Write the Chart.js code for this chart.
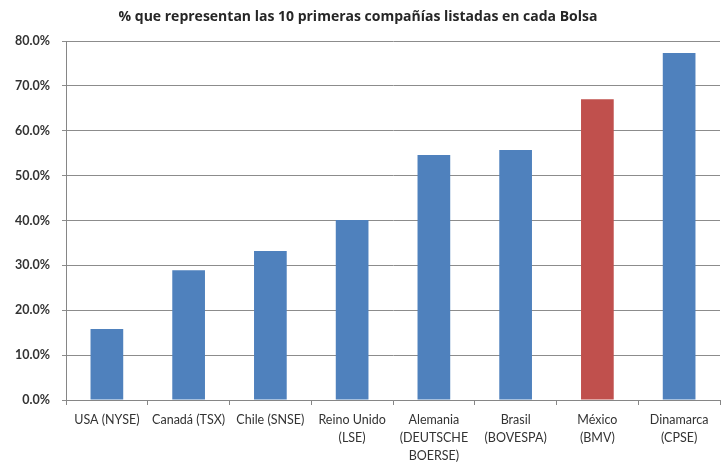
<!DOCTYPE html>
<html>
<head>
<meta charset="utf-8">
<script src="https://cdn.jsdelivr.net/npm/chart.js@4/dist/chart.umd.min.js"></script>
<style>
html,body{margin:0;padding:0;background:#fff;}
#wrap{width:727px;height:471px;}
</style>
</head>
<body>
<div id="wrap"><canvas id="c" width="727" height="471"></canvas></div>
<script>
const chartTitle = "% que representan las 10 primeras compañías listadas en cada Bolsa";
const categories = [
  ["USA (NYSE)"],
  ["Canadá (TSX)"],
  ["Chile (SNSE)"],
  ["Reino Unido", "(LSE)"],
  ["Alemania", "(DEUTSCHE", "BOERSE)"],
  ["Brasil", "(BOVESPA)"],
  ["México", "(BMV)"],
  ["Dinamarca", "(CPSE)"]
];
const values = [15.8, 28.9, 33.2, 40.1, 54.6, 55.7, 67.0, 77.3];
const highlight = "México";
const yTicks = [0, 10, 20, 30, 40, 50, 60, 70, 80];

const BLUE = "#4F81BD", RED = "#C0504D";
const barColors = categories.map(c => c[0] === highlight ? RED : BLUE);

const titlePlugin = {
  id: "fixedTitle",
  afterDraw(chart) {
    const ctx = chart.ctx;
    ctx.save();
    ctx.font = "bold 14px 'Open Sans', Lato, sans-serif";
    ctx.fillStyle = "#262626";
    ctx.textAlign = "center";
    ctx.textBaseline = "middle";
    ctx.fillText(chartTitle, 358, 17);
    ctx.restore();
  }
};

new Chart(document.getElementById("c"), {
  type: "bar",
  data: {
    labels: categories,
    datasets: [{
      data: values,
      backgroundColor: barColors,
      borderWidth: 0,
      categoryPercentage: 0.8,
      barPercentage: 0.5
    }]
  },
  options: {
    responsive: false,
    animation: false,
    events: [],
    layout: { padding: { top: 41, right: 7, left: 0, bottom: 0 } },
    plugins: { legend: { display: false }, tooltip: { enabled: false }, title: { display: false } },
    scales: {
      x: {
        afterFit(s) { s.height = 71; },
        grid: { display: true, drawOnChartArea: false, drawTicks: true, tickLength: 5, color: "#868686", offset: true },
        border: { color: "#868686", width: 1 },
        ticks: {
          autoSkip: false, maxRotation: 0, minRotation: 0, padding: 6,
          color: "#333333",
          font: { family: "Lato, 'Open Sans', sans-serif", size: 12.5, lineHeight: 1.45 }
        }
      },
      y: {
        min: 0, max: 80,
        afterFit(s) { s.width = 66; },
        afterBuildTicks(s) { s.ticks = yTicks.map(v => ({ value: v })); },
        grid: { color: "#8c8c8c", lineWidth: 1, tickLength: 4 },
        border: { color: "#868686", width: 1 },
        ticks: {
          padding: 12,
          color: "#333333",
          font: { family: "Lato, 'Open Sans', sans-serif", size: 12.5, weight: "bold" },
          callback: v => v.toFixed(1) + "%"
        }
      }
    }
  },
  plugins: [titlePlugin]
});
</script>
</body>
</html>
